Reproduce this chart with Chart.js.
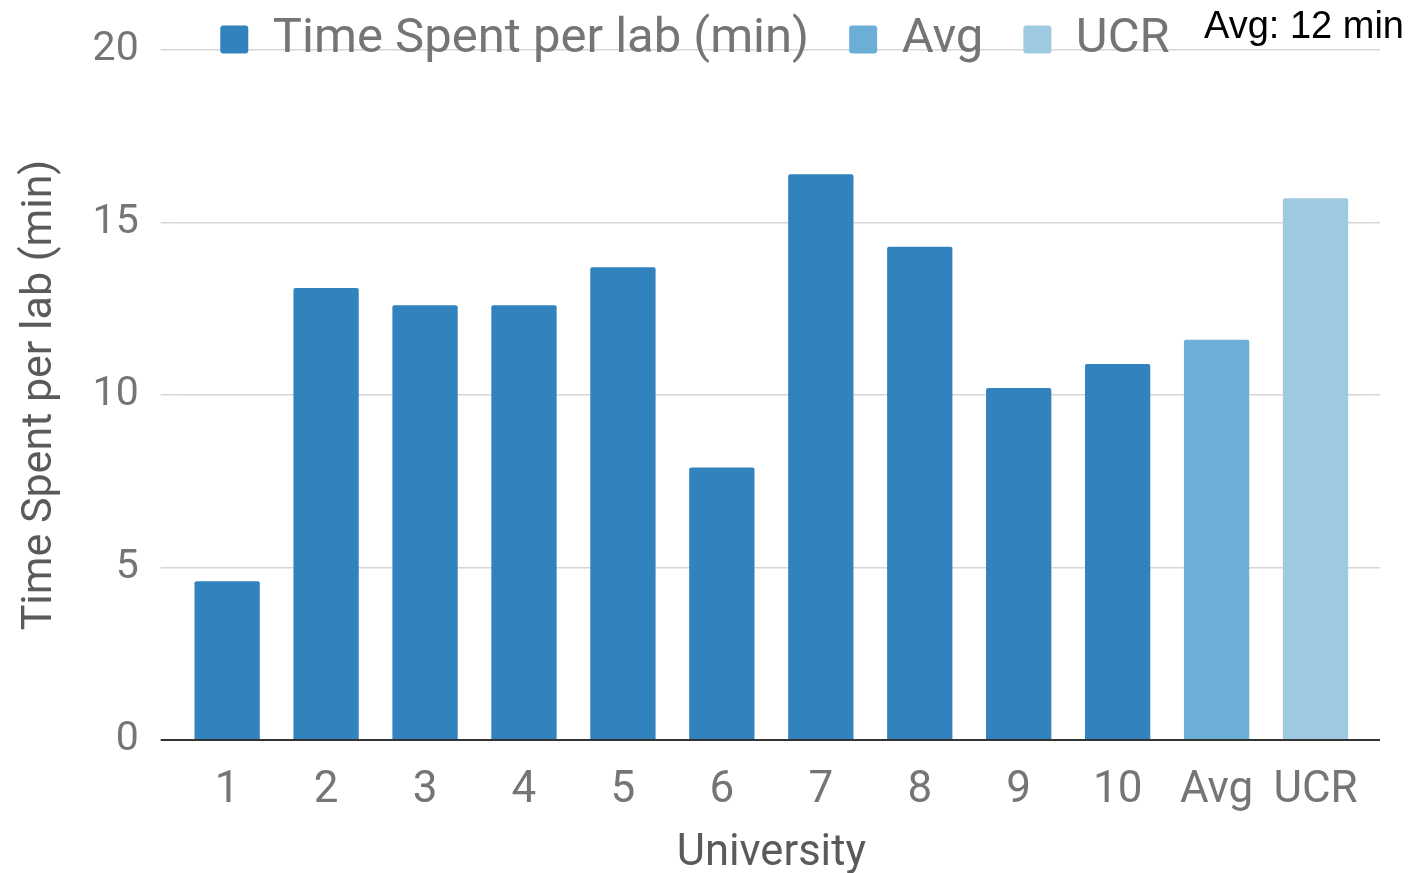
<!DOCTYPE html>
<html>
<head>
<meta charset="utf-8">
<title>Time Spent per lab</title>
<script src="https://cdn.jsdelivr.net/npm/chart.js@4.4.1/dist/chart.umd.min.js"></script>
<style>
    body { margin: 0; background: #fff; }
    canvas { display: block; }
</style>
</head>
<body>
<canvas id="chart" width="1412" height="873"></canvas>
<script>
// Data
const labels = ['1', '2', '3', '4', '5', '6', '7', '8', '9', '10', 'Avg', 'UCR'];
const timeSpent = [4.6, 13.1, 12.6, 12.6, 13.7, 7.9, 16.4, 14.3, 10.2, 10.9, null, null];
const avgValues = [null, null, null, null, null, null, null, null, null, null, 11.6, null];
const ucrValues = [null, null, null, null, null, null, null, null, null, null, null, 15.7];
const yTicks = [0, 5, 10, 15, 20];
const avgNote = 'Avg: 12 min';

const gray = '#757575';
const titleGray = '#5a5a5a';
const gridColor = ctx => ctx.tick && ctx.tick.value === 0 ? '#333333' : '#d6d6d6';
const gridWidth = ctx => ctx.tick && ctx.tick.value === 0 ? 2 : 1.5;

Chart.defaults.font.family = 'Roboto, "Noto Sans", sans-serif';

// Small annotation in the top right corner
const avgNotePlugin = {
    id: 'avgNote',
    afterLayout(chart) {
        // the legend sits partly over the top gridline, so don't clip its text
        chart.legend.bottom += 30;
        chart.legend.height += 30;
    },
    afterDraw(chart) {
        const ctx = chart.ctx;
        ctx.save();
        ctx.font = '38px "Liberation Sans", Arial, sans-serif';
        ctx.fillStyle = '#000';
        ctx.textAlign = 'right';
        ctx.textBaseline = 'alphabetic';
        ctx.fillText(avgNote, 1404, 38);
        ctx.restore();
    }
};

new Chart(document.getElementById('chart'), {
    type: 'bar',
    data: {
        labels: labels,
        datasets: [
            { label: 'Time Spent per lab (min)', data: timeSpent, backgroundColor: '#3182bd' },
            { label: 'Avg', data: avgValues, backgroundColor: '#6baed6' },
            { label: 'UCR', data: ucrValues, backgroundColor: '#9ecae1' }
        ]
    },
    options: {
        responsive: false,
        animation: false,
        devicePixelRatio: 1,
        layout: { padding: { top: -25, left: 10, right: 32, bottom: -3 } },
        datasets: {
            bar: { categoryPercentage: 1, barPercentage: 0.66, borderRadius: 2, borderSkipped: 'bottom' }
        },
        plugins: {
            tooltip: { enabled: false },
            legend: {
                position: 'top',
                align: 'center',
                maxHeight: 75,
                labels: {
                    boxWidth: 28,
                    boxHeight: 28,
                    useBorderRadius: true,
                    borderRadius: 3,
                    padding: 40,
                    color: gray,
                    font: { size: 49 }
                }
            }
        },
        scales: {
            x: {
                stacked: true,
                grid: { display: false, drawTicks: false },
                border: { display: false },
                ticks: { color: gray, font: { size: 44 }, padding: 25 },
                title: { display: true, text: 'University', color: titleGray, font: { size: 43.5 }, padding: { top: -15, bottom: -4 } }
            },
            y: {
                stacked: true,
                min: 0,
                max: 20,
                afterBuildTicks: axis => { axis.ticks = yTicks.map(v => ({ value: v })); },
                grid: { color: gridColor, tickColor: gridColor, lineWidth: gridWidth, tickLength: 17 },
                border: { display: false },
                ticks: { color: gray, font: { size: 41 }, padding: 22 },
                title: { display: true, text: 'Time Spent per lab (min)', color: titleGray, font: { size: 43 }, padding: { top: 4, bottom: 5 } }
            },
            yRight: {
                position: 'right',
                min: 0,
                max: 20,
                afterBuildTicks: axis => { axis.ticks = yTicks.map(v => ({ value: v })); },
                grid: { drawOnChartArea: false, tickColor: gridColor, lineWidth: gridWidth, tickLength: 15 },
                border: { display: false },
                ticks: { display: false }
            }
        }
    },
    plugins: [avgNotePlugin]
});
</script>
</body>
</html>
